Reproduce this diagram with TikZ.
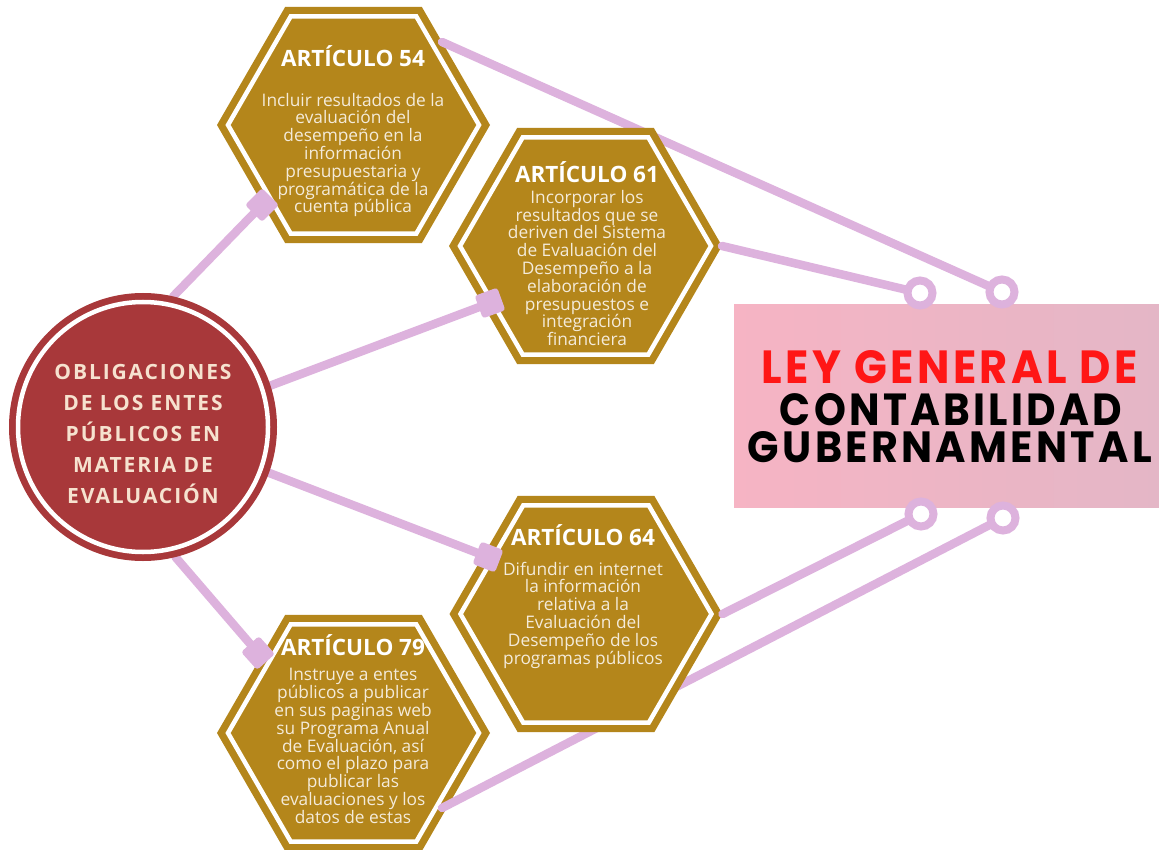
\documentclass[tikz,border=0pt]{standalone}
\usepackage{fontspec}
\setmainfont{Open Sans}
\newfontfamily\titlefont{Poppins}[LetterSpace=8]
\newfontfamily\circfont{Open Sans}[LetterSpace=9]
\usetikzlibrary{shapes.geometric}
\definecolor{gold}{HTML}{B4861B}
\definecolor{circred}{HTML}{A8383A}
\definecolor{lilac}{HTML}{DDB2DD}
\definecolor{cream}{HTML}{F4EBDA}
\definecolor{circtext}{HTML}{F6E2CF}
\definecolor{boxleft}{HTML}{F6B4C4}
\definecolor{boxright}{HTML}{E4B6C6}
\definecolor{titlered}{HTML}{FF1616}
\tikzset{
  hexbox/.style={regular polygon, regular polygon sides=6, minimum size=273pt, inner sep=0pt, outer sep=0pt, fill=gold},
  hexline/.style={regular polygon, regular polygon sides=6, minimum size=251pt, inner sep=0pt, outer sep=0pt, draw=white, line width=4.5pt},
  hextitle/.style={text=white, font=\fontsize{22.5}{24}\selectfont\bfseries, inner sep=0pt},
  hexbody/.style={text=cream, align=center, font=\fontsize{17.3}{17.8}\selectfont, inner sep=0pt},
  conn/.style={draw=lilac, line width=8.5pt, line cap=round},
  marker/.style={rectangle, rounded corners=3pt, minimum size=24pt, inner sep=0pt, fill=lilac},
  ring/.style={circle, minimum size=25pt, inner sep=0pt, draw=lilac, line width=8pt, fill=white},
  titleline/.style={inner sep=0pt},
}
\begin{document}
\begin{tikzpicture}[x=1pt,y=-1pt]
\useasboundingbox (0,0) rectangle (1159,850);
\fill[white] (0,0) rectangle (1159,850);
% title box
\node[rectangle, minimum width=425pt, minimum height=202pt, inner sep=0pt, left color=boxleft, right color=boxright] (tbox) at (946.5,406) {};
\node[titleline, text=titlered] (t1) at (950,367) {\resizebox{376pt}{33pt}{\titlefont\bfseries LEY GENERAL DE}};
\node[titleline, text=black] (t2) at (951,409.5) {\resizebox{342pt}{32pt}{\titlefont\bfseries CONTABILIDAD}};
\node[titleline, text=black] (t3) at (950,447) {\resizebox{404pt}{31pt}{\titlefont\bfseries GUBERNAMENTAL}};
% hexagons 54 and 79
\node[hexbox] (h54) at (353.5,125) {};
\node[hexline] (h54i) at (353.5,125) {};
\node[hextitle] (h54t) at (353,56) {ARTÍCULO 54};
\node[hexbody] (h54b) at (353,155) {Incluir resultados de la\\evaluación del\\desempeño en la\\información\\presupuestaria y\\programática de la\\cuenta pública};
\node[hexbox] (h79) at (353.5,733) {};
\node[hexline] (h79i) at (353.5,733) {};
\node[hextitle] (h79t) at (353,645) {ARTÍCULO 79};
\node[hexbody] (h79b) at (353,746) {Instruye a entes\\públicos a publicar\\en sus paginas web\\su Programa Anual\\de Evaluación, así\\como el plazo para\\publicar las\\evaluaciones y los\\datos de estas};
% ring positions
\coordinate (c1) at (920,293);
\coordinate (c2) at (1002,292);
\coordinate (c3) at (921,514);
\coordinate (c4) at (1003,518);
\coordinate (s5) at (442,42);
\coordinate (s8) at (442,808);
% connectors to the title
\draw[conn] (s5) -- (c2);
\draw[conn] (s8) -- (c4);
% hexagons 61 and 64
\node[hexbox] (h61) at (585.5,246) {};
\node[hexline] (h61i) at (585.5,246) {};
\node[hextitle] (h61t) at (587,172) {ARTÍCULO 61};
\node[hexbody] (h61b) at (587,268) {Incorporar los\\resultados que se\\deriven del Sistema\\de Evaluación del\\Desempeño a la\\elaboración de\\presupuestos e\\integración\\financiera};
\node[hexbox] (h64) at (586,614) {};
\node[hexline] (h64i) at (586,614) {};
\node[hextitle] (h64t) at (583,535) {ARTÍCULO 64};
\node[hexbody] (h64b) at (583,615) {Difundir en internet\\la información\\relativa a la\\Evaluación del\\Desempeño de los\\programas públicos};
\draw[conn] (h61.east) -- (c1);
\draw[conn] (h64.east) -- (c3);
% central circle and its connectors
\coordinate (k1) at (262,205);
\coordinate (k2) at (490,303);
\coordinate (k3) at (488,557);
\coordinate (k4) at (258,653);
\node[circle, minimum size=268pt, inner sep=0pt, outer sep=0pt] (circ) at (143,427) {};
\draw[conn] (circ.77) -- (k1);
\draw[conn] (circ.18) -- (k2);
\draw[conn] (circ.-20) -- (k3);
\draw[conn] (circ.-76) -- (k4);
\fill[circred] (circ.center) circle[radius=134];
\node[circle, minimum size=250pt, inner sep=0pt, draw=white, line width=4.5pt] (circi) at (circ) {};
\node[text=circtext, align=center, inner sep=0pt, font=\circfont\fontsize{21}{31}\selectfont\bfseries] (ctext) at (143,434) {OBLIGACIONES\\DE LOS ENTES\\PÚBLICOS EN\\MATERIA DE\\EVALUACIÓN};
% markers
\node[marker, rotate=45] (m1) at (k1) {};
\node[marker, rotate=20] (m2) at (k2) {};
\node[marker, rotate=-21] (m3) at (k3) {};
\node[marker, rotate=-48] (m4) at (k4) {};
% rings
\node[ring] (r1) at (c1) {};
\node[ring] (r2) at (c2) {};
\node[ring] (r3) at (c3) {};
\node[ring] (r4) at (c4) {};
\end{tikzpicture}
\end{document}
